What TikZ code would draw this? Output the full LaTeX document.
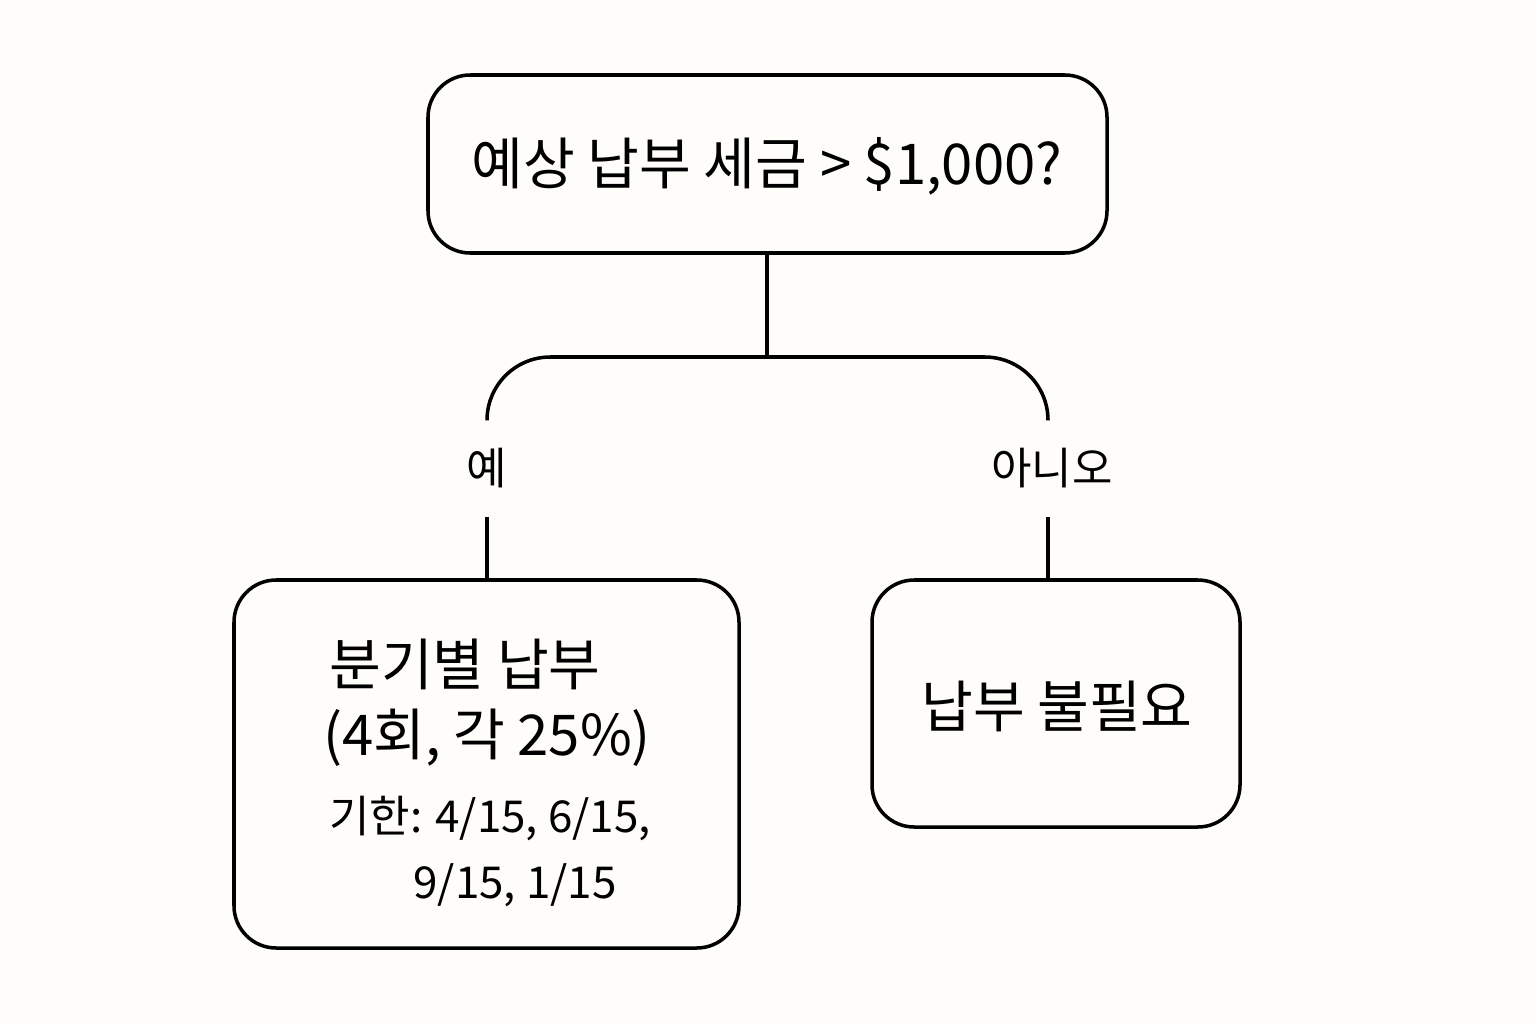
\documentclass[tikz,border=0pt]{standalone}
\usepackage{fontspec}
\setmainfont{Noto Sans CJK KR}
\usetikzlibrary{positioning}
\tikzset{
  box/.style={draw, line width=1pt, rounded corners=12pt},
  lbl/.style={font=\fontsize{12.5}{14}\selectfont, inner sep=0pt},
  link/.style={line width=1pt},
}
\begin{document}
\begin{tikzpicture}[x=0.01cm,y=-0.01cm]
    \useasboundingbox[fill={rgb,255:red,254;green,253;blue,249}] (0,0) rectangle (1536,1024);

    % boxes
    \draw[box] (428,75) rectangle (1107,253);
    \node[inner sep=0pt, font=\fontsize{16}{18}\selectfont] (top) at (767,166) {예상 납부 세금 > \$1,000?};
    \coordinate (topb) at (767,253);

    \draw[box] (234,580) rectangle (739,948);
    \coordinate (lefttop) at (487,580);
    \node[inner sep=0pt, font=\fontsize{16}{18}\selectfont] (yes1) at (465,664) {분기별 납부};
    \node[inner sep=0pt, font=\fontsize{16}{18}\selectfont] (yes2) at (487,738) {(4회, 각 25\%)};
    \node[lbl] (yes3) at (490,818) {기한: 4/15, 6/15,};
    \node[lbl] (yes4) at (515,885) {9/15, 1/15};

    \draw[box] (872,580) rectangle (1240,827);
    \coordinate (righttop) at (1048,580);
    \node[inner sep=0pt, font=\fontsize{16}{18}\selectfont] (no1) at (1057,706) {납부 불필요};

    % connectors
    \node[lbl] (yes) at (487,468) {예};
    \node[lbl] (no) at (1052,468) {아니오};
    \coordinate (split) at (767,357);
    \draw[link] (topb) -- (split);
    \draw[link, rounded corners=18pt] (487,420) -- (487,357) -- (1048,357) -- (1048,420);
    \draw[link] (487,517) -- (lefttop);
    \draw[link] (1048,517) -- (righttop);
\end{tikzpicture}
\end{document}
